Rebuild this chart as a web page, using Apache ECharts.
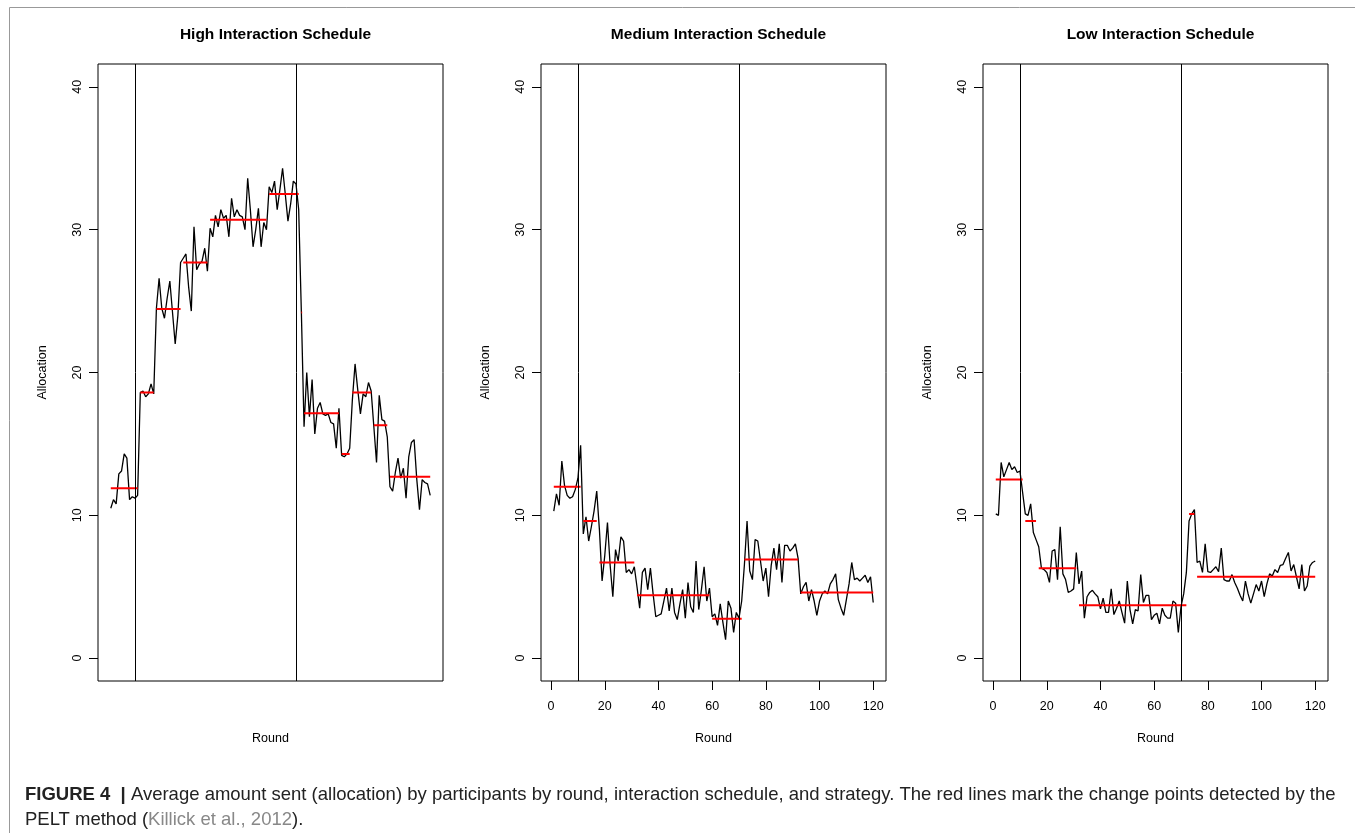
<!DOCTYPE html>
<html>
<head>
<meta charset="utf-8">
<script src="https://cdn.jsdelivr.net/npm/echarts@6/dist/echarts.min.js"></script>
<style>
  html, body { margin: 0; padding: 0; background: #fff; }
  #chart { width: 1355px; height: 833px; }
</style>
</head>
<body>
<div id="chart"></div>
<script>
// rounds 1..120
const rounds = Array.from({ length: 120 }, (_, i) => i + 1);

// average allocation per round
const highValues = [
  10.5, 11.1, 10.8, 12.9, 13.1, 14.3, 14.0, 11.1, 11.3, 11.2,
  11.4, 18.6, 18.7, 18.3, 18.5, 19.2, 18.5, 24.5, 26.6, 24.5,
  23.8, 25.2, 26.4, 24.2, 22.0, 24.0, 27.7, 28.0, 28.3, 26.0,
  24.3, 30.2, 27.2, 27.6, 27.8, 28.7, 27.1, 30.1, 29.5, 31.0,
  30.2, 31.4, 30.8, 31.0, 29.5, 32.2, 30.9, 31.4, 31.0, 30.9,
  30.0, 33.6, 31.4, 28.8, 30.0, 31.5, 28.8, 30.5, 30.0, 33.0,
  32.6, 33.4, 31.4, 32.8, 34.3, 32.5, 30.6, 31.8, 33.4, 33.2,
  31.4, 24.2, 16.2, 20.0, 16.9, 19.5, 15.7, 17.5, 17.9, 17.1,
  17.0, 17.1, 16.5, 16.4, 14.7, 17.5, 14.2, 14.1, 14.3, 14.7,
  18.1, 20.6, 18.8, 17.1, 18.5, 18.3, 19.3, 18.7, 16.2, 13.7,
  18.4, 16.7, 16.6, 15.5, 12.0, 11.7, 13.0, 14.0, 12.6, 13.3,
  11.2, 14.1, 15.1, 15.3, 12.5, 10.4, 12.5, 12.3, 12.2, 11.4
];
const mediumValues = [
  10.3, 11.5, 10.7, 13.8, 12.1, 11.4, 11.2, 11.3, 11.8, 12.6,
  14.9, 8.7, 9.9, 8.2, 9.2, 10.3, 11.7, 9.0, 5.4, 7.2,
  9.5, 6.5, 4.3, 7.6, 6.8, 8.5, 8.2, 6.0, 6.2, 5.9,
  6.4, 5.0, 3.5, 6.0, 6.3, 4.8, 6.3, 4.5, 2.9, 3.0,
  3.1, 4.0, 4.9, 3.3, 4.9, 3.2, 2.7, 3.8, 4.8, 2.8,
  5.3, 3.6, 3.2, 6.8, 3.4, 4.8, 6.4, 4.0, 4.9, 2.9,
  3.1, 2.3, 3.8, 2.5, 1.3, 4.0, 3.5, 1.8, 3.2, 2.8,
  4.0, 6.5, 9.6, 6.1, 5.5, 8.3, 8.2, 6.8, 5.4, 6.3,
  4.3, 6.5, 7.7, 6.2, 8.0, 5.3, 7.9, 7.9, 7.5, 7.7,
  8.0, 7.0, 4.5, 5.0, 5.3, 4.0, 4.8, 4.0, 3.0, 4.0,
  4.5, 4.7, 4.5, 5.2, 5.5, 5.9, 4.1, 3.5, 3.0, 4.1,
  5.2, 6.7, 5.5, 5.6, 5.4, 5.6, 5.8, 5.3, 5.7, 3.9
];
const lowValues = [
  10.1, 10.0, 13.7, 12.7, 13.2, 13.7, 13.2, 13.4, 13.0, 13.1,
  11.6, 10.1, 10.0, 10.8, 8.8, 8.3, 7.8, 6.3, 6.2, 6.0,
  5.3, 7.5, 7.6, 5.5, 9.2, 5.9, 5.5, 4.6, 4.7, 4.85,
  7.4, 5.2, 6.1, 2.8, 4.3, 4.6, 4.75, 4.5, 4.3, 3.45,
  4.2, 3.2, 3.2, 4.85, 3.05, 3.5, 4.0, 3.2, 2.45, 5.4,
  3.4, 2.4, 3.4, 3.3, 5.85, 3.9, 4.4, 4.4, 2.7, 3.0,
  3.15, 2.4, 3.5, 3.0, 2.8, 2.8, 4.0, 3.85, 1.8, 3.6,
  4.5, 6.0, 9.6, 10.1, 10.4, 6.7, 6.8, 6.0, 8.0, 6.05,
  6.0, 6.2, 6.4, 6.05, 7.7, 5.5, 5.4, 5.4, 5.85, 5.3,
  4.9, 4.4, 4.0, 5.4, 4.5, 3.85, 4.5, 5.15, 4.7, 5.4,
  4.3, 5.2, 5.9, 5.75, 6.2, 6.0, 6.5, 6.55, 7.0, 7.4,
  6.1, 6.55, 5.7, 4.85, 6.55, 4.7, 5.05, 6.45, 6.7, 6.8
];

// PELT change point segments (start round, end round, segment mean)
const highSegStart = [1, 12, 18, 28, 38, 60, 72, 73, 87, 91, 99, 105];
const highSegEnd   = [11, 17, 27, 37, 59, 71, 72.3, 86, 90, 98, 104, 120];
const highSegMean  = [11.9, 18.6, 24.45, 27.7, 30.7, 32.5, 24.2, 17.15, 14.3, 18.6, 16.3, 12.7];

const mediumSegStart = [1, 12, 18, 32, 60, 72, 93];
const mediumSegEnd   = [11, 17, 31, 59, 71, 92, 120];
const mediumSegMean  = [12.0, 9.6, 6.7, 4.4, 2.75, 6.9, 4.6];

const lowSegStart = [1, 12, 17, 32, 73, 76];
const lowSegEnd   = [11, 16, 31, 72, 75, 120];
const lowSegMean  = [12.5, 9.6, 6.3, 3.7, 10.1, 5.7];

// schedule phase boundaries (vertical lines)
const phaseBreaks = [10, 70];

const panelTitles = ['High Interaction Schedule', 'Medium Interaction Schedule', 'Low Interaction Schedule'];
const xTicks = [0, 20, 40, 60, 80, 100, 120];
const yTicks = [0, 10, 20, 30, 40];

const panels = [
  { values: highValues, s: highSegStart, e: highSegEnd, m: highSegMean, showX: false },
  { values: mediumValues, s: mediumSegStart, e: mediumSegEnd, m: mediumSegMean, showX: true },
  { values: lowValues, s: lowSegStart, e: lowSegEnd, m: lowSegMean, showX: true }
];

const gridLefts = [98, 541, 983];
const gridW = 345, gridTop = 64, gridH = 617;
const font = 'Liberation Sans, Arial, Helvetica, sans-serif';

const chart = echarts.init(document.getElementById('chart'), null, { renderer: 'canvas' });

const grid = [], xAxis = [], yAxis = [], series = [], titles = [], graphic = [];

panels.forEach(function (p, i) {
    grid.push({
        left: gridLefts[i], top: gridTop, width: gridW, height: gridH,
        show: true, borderColor: '#000', borderWidth: 1, backgroundColor: 'transparent'
    });
    xAxis.push({
        type: 'value', gridIndex: i, min: -3.76, max: 124.76,
        splitLine: { show: false },
        axisLine: { show: false, onZero: false },
        axisTick: { show: p.showX, customValues: xTicks, length: 9, inside: false, lineStyle: { color: '#000' } },
        axisLabel: { show: p.showX, customValues: xTicks, margin: 19, color: '#000', fontSize: 12.5, fontFamily: font }
    });
    yAxis.push({
        type: 'value', gridIndex: i, min: -1.6, max: 41.6,
        splitLine: { show: false },
        axisLine: { show: false, onZero: false },
        axisTick: { show: true, customValues: yTicks, length: 9, inside: false, lineStyle: { color: '#000' } },
        axisLabel: { customValues: yTicks, rotate: 90, margin: 14, color: '#000', fontSize: 12.5, fontFamily: font }
    });

    series.push({
        type: 'line', xAxisIndex: i, yAxisIndex: i,
        data: rounds.map(function (r, k) { return [r, p.values[k]]; }),
        showSymbol: false, symbol: 'none', smooth: false,
        lineStyle: { color: '#000', width: 1.3 },
        markLine: {
            silent: true, symbol: 'none', label: { show: false },
            lineStyle: { color: '#000', type: 'solid', width: 1 },
            data: phaseBreaks.map(function (b) { return { xAxis: b }; })
        },
        z: 2
    });

    // red change-point segments, separated by gaps
    const segData = [];
    p.s.forEach(function (st, k) {
        segData.push([st, p.m[k]]);
        segData.push([p.e[k], p.m[k]]);
        segData.push([p.e[k], '-']);
    });
    series.push({
        type: 'line', xAxisIndex: i, yAxisIndex: i,
        data: segData, connectNulls: false,
        showSymbol: false, symbol: 'none',
        lineStyle: { color: '#ff0000', width: 2 },
        z: 3
    });

    const cx = gridLefts[i] + gridW / 2;
    titles.push({
        text: panelTitles[i], left: cx, top: 22, textAlign: 'center',
        textStyle: { fontSize: 15.5, fontWeight: 'bold', color: '#000', fontFamily: font }
    });
    graphic.push({
        type: 'text', x: cx, y: 739,
        style: { text: 'Round', fill: '#000', font: '12.5px ' + font, textAlign: 'center', textVerticalAlign: 'middle' }
    });
    graphic.push({
        type: 'text', x: gridLefts[i] - 55, y: gridTop + gridH / 2, rotation: Math.PI / 2,
        style: { text: 'Allocation', fill: '#000', font: '12.5px ' + font, textAlign: 'center', textVerticalAlign: 'middle' }
    });
});

// outer frame of the figure
graphic.push({
    type: 'rect', shape: { x: 9.5, y: 7.5, width: 1400, height: 900 },
    style: { fill: 'none', stroke: '#999', lineWidth: 1 }, silent: true
});

// caption
graphic.push({
    type: 'text', x: 25, y: 782,
    style: {
        text: '{b|FIGURE 4  |} Average amount sent (allocation) by participants by round, interaction schedule, and strategy. The red lines mark the change points detected by the\nPELT method ({g|Killick et al., 2012}).',
        font: '18.5px ' + font, fill: '#222', lineHeight: 25,
        rich: {
            b: { fontWeight: 'bold', fontSize: 18.5, fontFamily: font, fill: '#222', lineHeight: 25 },
            g: { fill: '#888', fontSize: 18.5, fontFamily: font, lineHeight: 25 }
        }
    }
});

chart.setOption({
    animation: false,
    backgroundColor: '#fff',
    title: titles,
    grid: grid,
    xAxis: xAxis,
    yAxis: yAxis,
    series: series,
    graphic: graphic
});
</script>
</body>
</html>
